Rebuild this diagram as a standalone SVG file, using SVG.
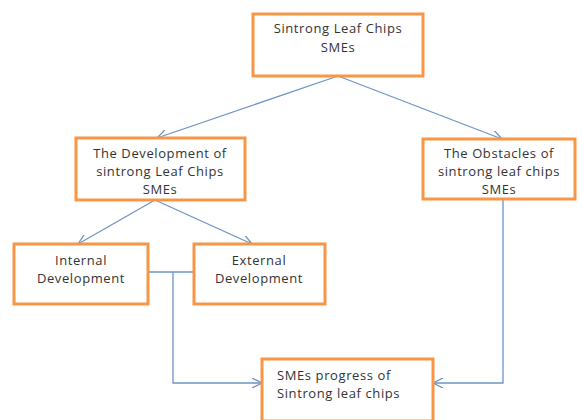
<svg xmlns="http://www.w3.org/2000/svg" width="582" height="420" viewBox="0 0 582 420">
<defs>
<style>
.box{fill:#fff;stroke:#f79646;stroke-width:3}
.t{font-family:"Open Sans","Liberation Sans",sans-serif;font-size:13px;letter-spacing:0.6px;fill:#333;text-anchor:middle}
.tl{font-family:"Open Sans","Liberation Sans",sans-serif;font-size:13px;letter-spacing:0.6px;fill:#333}
.c{fill:none;stroke:#6f93c4;stroke-width:1.3}
</style>
<marker id="a" viewBox="0 0 10 10" refX="10" refY="5" markerWidth="10" markerHeight="10" markerUnits="userSpaceOnUse" orient="auto">
<path d="M0,0 L10,5 L0,10" fill="none" stroke="#6f93c4" stroke-width="1.3"/>
</marker>
</defs>
<rect width="582" height="420" fill="#fff"/>
<g id="connectors">
<path class="c" d="M338,76 L157,138" marker-end="url(#a)"/>
<path class="c" d="M338,76 L502,139" marker-end="url(#a)"/>
<path class="c" d="M155,200 L78,244" marker-end="url(#a)"/>
<path class="c" d="M155,200 L252,244" marker-end="url(#a)"/>
<path class="c" d="M148,272 L194,272"/>
<path class="c" d="M173,272 L173,383 L262,383" marker-end="url(#a)"/>
<path class="c" d="M503,199 L503,383 L433,383" marker-end="url(#a)"/>
</g>
<g id="top">
<rect class="box" x="253" y="14" width="170" height="62"/>
<text class="t" x="338" y="33">Sintrong Leaf Chips</text>
<text class="t" x="338" y="52">SMEs</text>
</g>
<g id="development">
<rect class="box" x="76" y="138" width="169" height="62"/>
<text class="t" x="160" y="158">The Development of</text>
<text class="t" x="160" y="176">sintrong Leaf Chips</text>
<text class="t" x="160" y="194">SMEs</text>
</g>
<g id="obstacles">
<rect class="box" x="423" y="139" width="152" height="60"/>
<text class="t" x="499" y="158">The Obstacles of</text>
<text class="t" x="499" y="176">sintrong leaf chips</text>
<text class="t" x="499" y="194">SMEs</text>
</g>
<g id="internal">
<rect class="box" x="14" y="244" width="134" height="60"/>
<text class="t" x="81" y="265">Internal</text>
<text class="t" x="81" y="283">Development</text>
</g>
<g id="external">
<rect class="box" x="194" y="244" width="131" height="60"/>
<text class="t" x="259" y="265">External</text>
<text class="t" x="259" y="283">Development</text>
</g>
<g id="progress">
<rect class="box" x="262" y="359" width="171" height="62"/>
<text class="tl" x="277" y="380">SMEs progress of</text>
<text class="tl" x="277" y="398">Sintrong leaf chips</text>
</g>
</svg>
